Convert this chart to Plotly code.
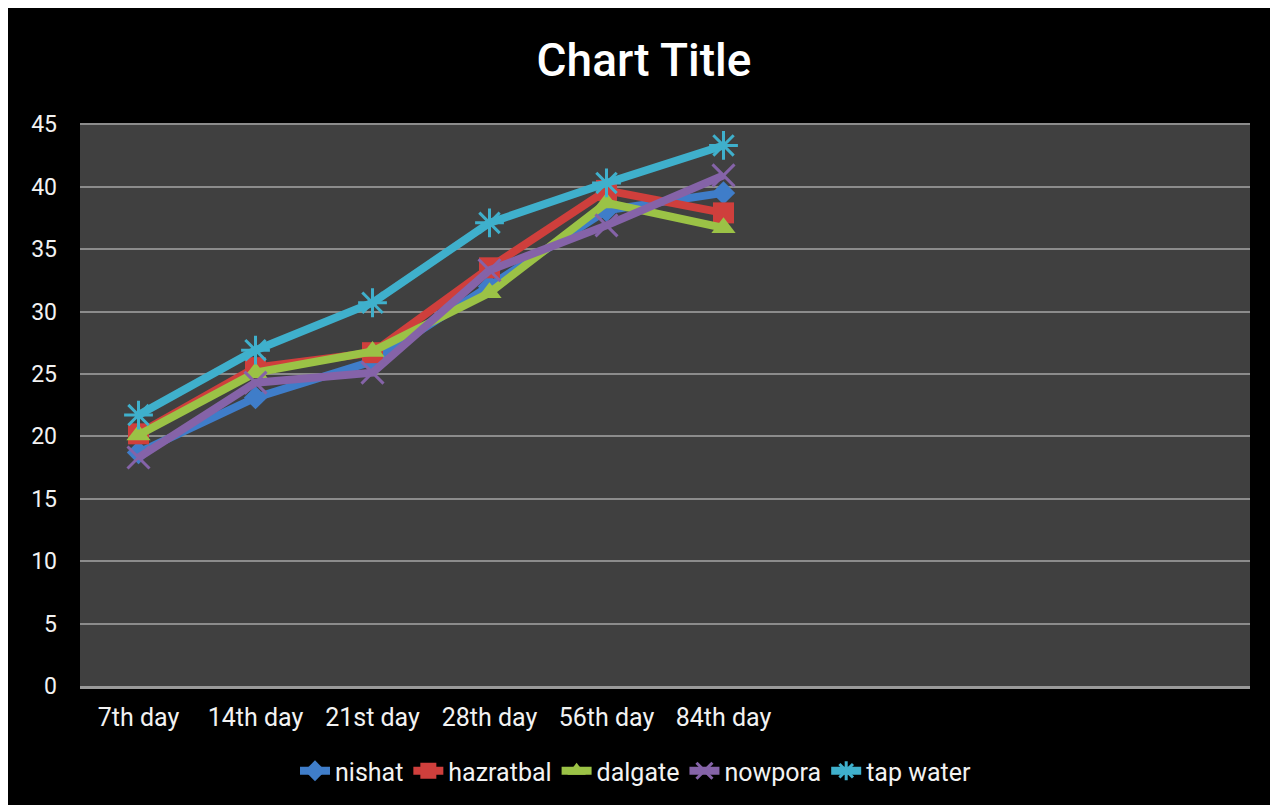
import plotly.graph_objects as go

categories = ["7th day", "14th day", "21st day", "28th day", "56th day", "84th day"]
nishat = [18.7, 23.1, 26.0, 32.0, 38.1, 39.5]
hazratbal = [20.2, 25.5, 26.7, 33.5, 39.7, 37.9]
dalgate = [20.1, 25.1, 26.8, 31.5, 38.7, 36.7]
nowpora = [18.3, 24.3, 25.1, 33.3, 36.9, 40.9]
tap_water = [21.7, 26.9, 30.7, 37.1, 40.3, 43.3]
y_ticks = [0, 5, 10, 15, 20, 25, 30, 35, 40, 45]

series = [
    ("nishat", nishat, "#3F7DC9", "diamond", 18, 0),
    ("hazratbal", hazratbal, "#CF3F3C", "square", 21, 0),
    ("dalgate", dalgate, "#9BC246", "triangle-up", 21, 0),
    ("nowpora", nowpora, "#8563A8", "x-thin-open", 22, 3),
    ("tap water", tap_water, "#3FB0CC", "asterisk-open", 24, 3),
]

xpos = list(range(len(categories)))

fig = go.Figure()
for name, vals, color, sym, size, lw in series:
    fig.add_trace(go.Scatter(
        x=xpos, y=vals, name=name, mode="lines+markers",
        line=dict(color=color, width=8),
        marker=dict(symbol=sym, size=size, color=color,
                    line=dict(color=color, width=lw)),
    ))

# page body adds an 8px offset; reference coordinates are shifted accordingly
OFF = 8
W, H = 1278, 805
L = 80 - OFF
T = 123 - OFF
R = W - (1250 - OFF)
B = H - (686 - OFF)
pw, ph = W - L - R, H - T - B

def px_x(p):
    return (p - OFF - L) / pw

def px_y(p):
    return (H - B - (p - OFF)) / ph

fig.update_layout(
    width=W, height=H,
    margin=dict(l=L, r=R, t=T, b=B),
    paper_bgcolor="black",
    plot_bgcolor="#404040",
    font=dict(family="Roboto", color="#F2F2F2"),
    title=dict(text="Chart Title", xref="container", x=(644 - OFF) / W,
               xanchor="center",
               y=1 - (60 - OFF) / H, yanchor="middle",
               font=dict(family="Roboto", size=46, color="white", weight=500)),
    showlegend=True,
    legend=dict(orientation="h", x=px_x(636), xanchor="center",
                y=px_y(771), yanchor="middle",
                font=dict(size=25, color="#F2F2F2"),
                bgcolor="rgba(0,0,0,0)"),
    xaxis=dict(range=[-0.5, 9.5], tickmode="array", tickvals=xpos,
               ticktext=categories, showgrid=False, zeroline=False,
               showline=True, linecolor="#9A9A9A", linewidth=3,
               tickfont=dict(size=25, color="#F2F2F2"), ticks="",
               ticklabelstandoff=7, fixedrange=True),
    yaxis=dict(range=[0, 45.1], tickmode="array", tickvals=y_ticks,
               showgrid=True, gridcolor="#8C8C8C", gridwidth=2,
               zeroline=False, showline=False, ticks="",
               tickfont=dict(size=23, color="#F2F2F2"),
               ticklabelstandoff=22),
)

fig.write_html("out.html")
